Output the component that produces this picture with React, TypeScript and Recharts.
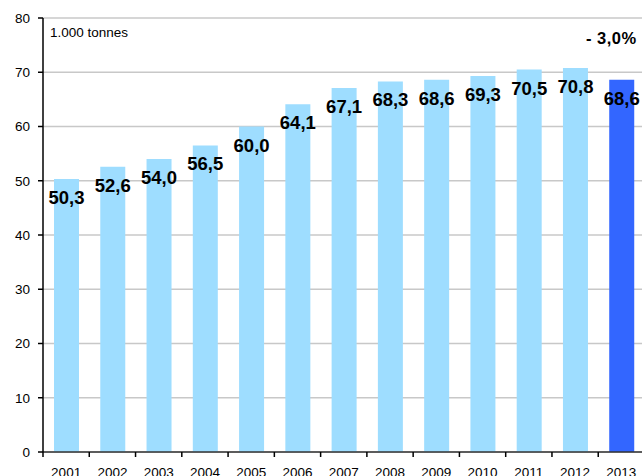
import { BarChart, Bar, XAxis, YAxis, CartesianGrid, Cell, LabelList } from "recharts";

const years = ["2001", "2002", "2003", "2004", "2005", "2006", "2007", "2008", "2009", "2010", "2011", "2012", "2013"];
const tonnes = [50.3, 52.6, 54.0, 56.5, 60.0, 64.1, 67.1, 68.3, 68.6, 69.3, 70.5, 70.8, 68.6];
const yTicks = [0, 10, 20, 30, 40, 50, 60, 70, 80];

const data = years.map((year, i) => ({ year, value: tonnes[i] }));

const FONT = "'Liberation Sans', Arial, sans-serif";
const W = 660;
const H = 500;
const M = { top: 18, right: 15.5, bottom: 18, left: 0 };
const Y_W = 43;
const halfBand = (W - M.left - M.right - Y_W) / years.length / 2;

const XTick = (props: any) => {
  const { x, y, payload } = props;
  return (
    <g>
      <line x1={x - halfBand} x2={x - halfBand} y1={y} y2={y + 5} stroke="#000" strokeWidth={1.5} />
      <text x={x} y={y + 20} textAnchor="middle" dominantBaseline="central" fontSize={13.5} fontFamily={FONT} fill="#000">
        {payload.value}
      </text>
    </g>
  );
};

const ValueLabel = (props: any) => {
  const { x, y, width, value } = props;
  return (
    <text
      x={x + width / 2}
      y={y + 18.5}
      textAnchor="middle"
      dominantBaseline="central"
      fontSize={18.5}
      fontWeight="bold"
      fontFamily={FONT}
      fill="#000"
    >
      {value.toFixed(1).replace(".", ",")}
    </text>
  );
};

export default function App() {
  return (
    <div style={{ position: "absolute", left: 0, top: 0, width: 642, height: 476, overflow: "hidden", background: "#fff" }}>
      <BarChart width={W} height={H} data={data} margin={M}>
        <CartesianGrid vertical={false} stroke="#c8c8c8" strokeWidth={1.5} />
        <XAxis
          dataKey="year"
          height={30}
          tick={<XTick />}
          tickLine={false}
          tickSize={0}
          tickMargin={0}
          axisLine={{ stroke: "#333", strokeWidth: 1.5 }}
          interval={0}
        />
        <YAxis
          width={Y_W}
          domain={[0, 80]}
          ticks={yTicks}
          tickSize={5}
          tickMargin={8}
          tick={{ fontSize: 13.5, fontFamily: FONT, fill: "#000" }}
          tickLine={{ stroke: "#000", strokeWidth: 1.5 }}
          axisLine={{ stroke: "#000", strokeWidth: 1.5 }}
        />
        <Bar dataKey="value" barSize={25} isAnimationActive={false}>
          {data.map((d, i) => (
            <Cell key={d.year} fill={i === data.length - 1 ? "#3366ff" : "#9eddff"} />
          ))}
          <LabelList dataKey="value" content={<ValueLabel />} />
        </Bar>
      </BarChart>
      <div style={{ position: "absolute", left: 50, top: 25, fontFamily: FONT, fontSize: 13.5, color: "#000" }}>1.000 tonnes</div>
      <div style={{ position: "absolute", left: 586, top: 29, fontFamily: FONT, fontSize: 16.5, fontWeight: "bold", color: "#000", letterSpacing: 0.5, whiteSpace: "nowrap" }}>
        - 3,0%
      </div>
    </div>
  );
}
